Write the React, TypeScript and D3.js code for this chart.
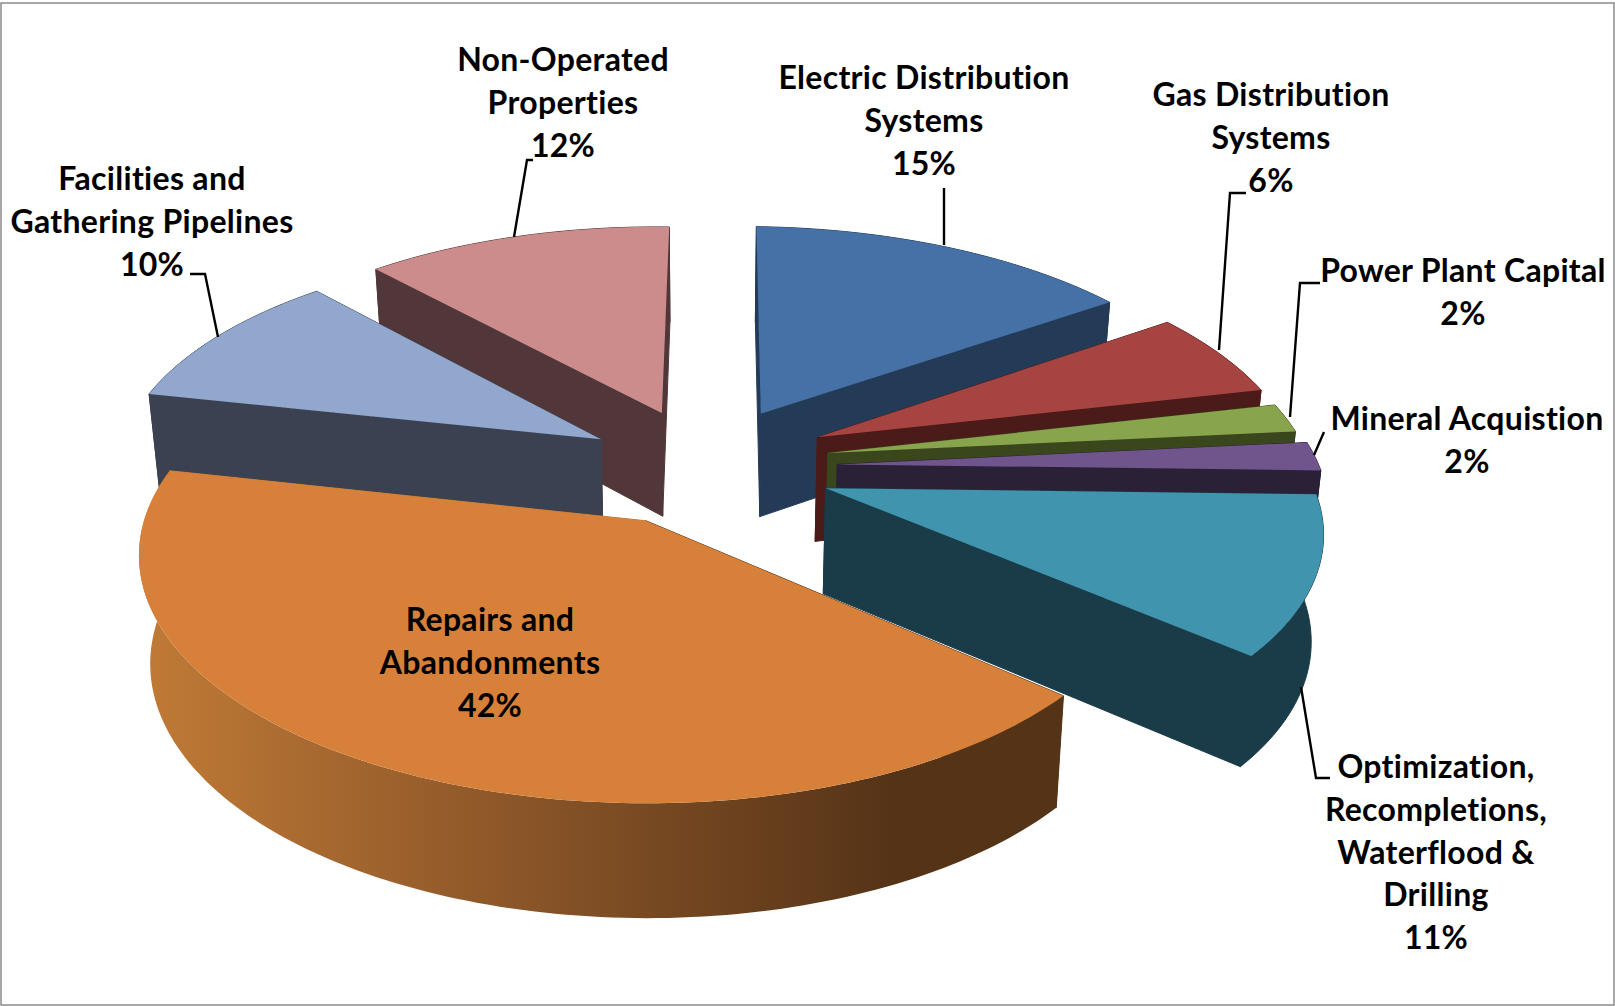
import React, { useMemo } from "react";
import * as d3 from "d3";

// Capital budget shares, clockwise from twelve o'clock.
const categories = [
  ["Electric Distribution", "Systems"],
  ["Gas Distribution", "Systems"],
  ["Power Plant Capital"],
  ["Mineral Acquistion"],
  ["Optimization,", "Recompletions,", "Waterflood &", "Drilling"],
  ["Repairs and", "Abandonments"],
  ["Facilities and", "Gathering Pipelines"],
  ["Non-Operated", "Properties"],
];
const shares = [15, 6, 2, 2, 11, 42, 10, 12];

const topColors = ["#4571A7", "#A54441", "#88A44D", "#70558C", "#4094AE", "#D7803A", "#91A7CD", "#CD8C8C"];
const sideColors = ["#243B58", "#4A1B18", "#3A471D", "#2B2137", "#1A3C49", "url(#rimShade)", "#3B4150", "#513739"];

// Painter's order: farthest wedge first.
const paintOrder = [7, 0, 6, 1, 2, 3, 4, 5];

// Small screen-space adjustment of each exploded wedge.
const wedgeNudges = [
  [-1, -3],
  [-1, -6],
  [-1, -4],
  [6, 0],
  [0, 0],
  [-4, 0],
  [3, 2],
  [0, 0],
];

// Centre of the first text line of each label.
const labelAnchors = [
  [924, 81],
  [1271, 98],
  [1463, 274],
  [1467, 422],
  [1436, 770],
  [490, 623],
  [152, 182],
  [563, 63],
];

const leaders = [
  [[944, 188], [944, 245]],
  [[1246, 193], [1230, 193], [1219, 350]],
  [[1320, 283], [1300, 283], [1290, 417]],
  [[1324, 432], [1314, 455]],
  [[1301, 687], [1316, 778], [1330, 778]],
  [],
  [[190, 274], [205, 274], [218, 337]],
  [[533, 160], [527, 160], [514, 237]],
];

const EXPLODE = 0.26;
const TURN = (0.3 * Math.PI) / 180;
const WIDTH = 1615;
const HEIGHT = 1006;
const CX = 706;
const CY = 466.5;

// Tilted-disc camera: Y runs toward the viewer, drop is 0 on the top face and 1 on the underside.
const xScale = d3.scaleLinear().domain([-1, 1]).range([CX - 484, CX + 484]);
const yScale = d3.scaleLinear().domain([-1, 1]).range([CY - 226, CY + 226]);
function project(X: number, Y: number, drop: number): [number, number] {
  const near = 1 / (1 - 0.14 * Y);
  const x = xScale(X * near * (1 - 0.02 * drop));
  const y = yScale(Y * near) + 0.01 * (x - CX) + drop * (105 + 8 * Y);
  return [x, y];
}

const path = d3.line<[number, number]>();

function wedgeGeometry(a0: number, a1: number) {
  const mid = (a0 + a1) / 2;
  const ax = EXPLODE * Math.sin(mid);
  const ay = -EXPLODE * Math.cos(mid);
  const steps = Math.max(4, Math.ceil((a1 - a0) / 0.02));
  const angles = d3.range(steps + 1).map((i) => a0 + ((a1 - a0) * i) / steps);
  const rim = (drop: number) =>
    angles.map((t) => project(ax + Math.sin(t), ay - Math.cos(t), drop));
  const apexTop = project(ax, ay, 0);
  const apexBottom = project(ax, ay, 1);
  const rimTop = rim(0);
  const rimBottom = rim(1);
  const n = rimTop.length - 1;
  return {
    top: path([apexTop, ...rimTop]) + "Z",
    outer: path([...rimTop, ...rimBottom.slice().reverse()]) + "Z",
    startWall: path([apexTop, rimTop[0], rimBottom[0], apexBottom]) + "Z",
    endWall: path([apexTop, rimTop[n], rimBottom[n], apexBottom]) + "Z",
  };
}

export default function App() {
  const wedges = useMemo(() => {
    const arcs = d3
      .pie<number>()
      .sort(null)
      .startAngle(TURN)
      .endAngle(Math.PI * 2 + TURN)(shares);
    return arcs.map((a) => wedgeGeometry(a.startAngle, a.endAngle));
  }, []);

  const labelFont = {
    fontFamily: "Lato, Carlito, sans-serif",
    fontWeight: 700,
    fontSize: 32,
    letterSpacing: 0.3,
    fontVariantLigatures: "none",
  } as React.CSSProperties;

  return (
    <svg
      width={WIDTH}
      height={HEIGHT}
      viewBox={`0 0 ${WIDTH} ${HEIGHT}`}
      style={{ position: "absolute", left: 0, top: 0, display: "block" }}
    >
      <defs>
        <linearGradient id="rimShade" gradientUnits="userSpaceOnUse" x1={150} y1={0} x2={900} y2={0}>
          <stop offset="0" stopColor="#C07A36" />
          <stop offset="0.5" stopColor="#8A5528" />
          <stop offset="1" stopColor="#553317" />
        </linearGradient>
      </defs>
      <rect x={1} y={3} width={WIDTH - 2} height={HEIGHT - 4} fill="#fff" stroke="#8a8a8a" strokeWidth={1.5} />
      {paintOrder.map((i) => {
        const wall = i === 5 ? "#553317" : sideColors[i];
        const wallEnd = i === 5 ? "#C07A36" : sideColors[i];
        const [dx, dy] = wedgeNudges[i];
        return (
          <g key={categories[i][0]} transform={`translate(${dx},${dy})`}>
            <path d={wedges[i].startWall} fill={wall} stroke={wall} strokeWidth={1} />
            <path d={wedges[i].endWall} fill={wallEnd} stroke={wallEnd} strokeWidth={1} />
            <path d={wedges[i].outer} fill={sideColors[i]} stroke={i === 5 ? "none" : wall} strokeWidth={1} />
            <path d={wedges[i].top} fill={topColors[i]} />
          </g>
        );
      })}
      {leaders.map((pts, i) =>
        pts.length ? (
          <path
            key={i}
            d={path(pts as [number, number][]) as string}
            fill="none"
            stroke="#000"
            strokeWidth={2.4}
          />
        ) : null
      )}
      {categories.map((lines, i) => {
        const [x, y] = labelAnchors[i];
        const all = [...lines, `${shares[i]}%`];
        return (
          <text key={lines[0]} x={x} y={y} textAnchor="middle" dominantBaseline="middle" fill="#000" style={labelFont}>
            {all.map((t, j) => (
              <tspan key={j} x={x} y={y + j * 42.8}>
                {t}
              </tspan>
            ))}
          </text>
        );
      })}
    </svg>
  );
}
